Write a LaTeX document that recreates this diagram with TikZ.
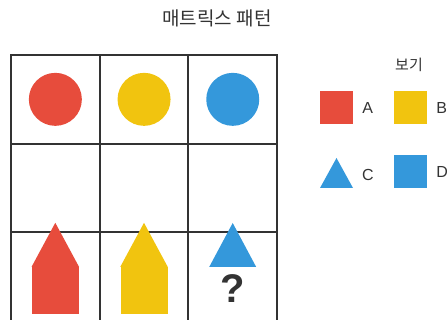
\documentclass[tikz,border=0pt]{standalone}
\usepackage{fontspec}
\setmainfont{Noto Sans CJK KR}
\newfontfamily\latinfont{Liberation Sans}
\usepackage{tikz}
\usetikzlibrary{positioning}
\definecolor{shapeRed}{HTML}{E74C3C}
\definecolor{shapeYellow}{HTML}{F1C40F}
\definecolor{shapeBlue}{HTML}{3498DB}
\definecolor{gridLine}{HTML}{333333}
\definecolor{textGray}{HTML}{333333}

\begin{document}
\begin{tikzpicture}[
    x=1pt, y=-1pt,
    gridCell/.style={draw=gridLine, line width=2pt, minimum size=88.7pt, inner sep=0pt},
    dotCircle/.style={circle, minimum size=53pt, inner sep=0pt},
    bodySquare/.style={minimum size=47pt, inner sep=0pt},
    keySquare/.style={minimum size=33pt, inner sep=0pt},
    keyLabel/.style={font=\latinfont\fontsize{16}{18}\selectfont, color=textGray, anchor=west, inner sep=0pt, xshift=9pt},
    titleText/.style={font=\fontsize{19}{22}\selectfont, color=textGray}
]
\useasboundingbox (0,0) rectangle (447,320);

% Title
\node[titleText] (title) at (217,18) {매트릭스 패턴};

% Grid (3 x 3)
\foreach \row in {1,2,3} {
  \foreach \col in {1,2,3} {
    \node[gridCell] (c\row\col) at ({11+44.35+88.7*(\col-1)}, {55+44.35+88.7*(\row-1)}) {};
  }
}

% Row 1: circles
\node[dotCircle, fill=shapeRed] (dot1) at (c11) {};
\node[dotCircle, fill=shapeYellow] (dot2) at (c12) {};
\node[dotCircle, fill=shapeBlue] (dot3) at (c13) {};

% Row 3: houses and the open cell
\node[bodySquare, fill=shapeRed] (body1) at (55.3,290.5) {};
\fill[shapeRed] (body1.north west) -- (body1.north east) -- ([yshift=44pt]body1.north) -- cycle;
\node[bodySquare, fill=shapeYellow] (body2) at (144,290.5) {};
\fill[shapeYellow] (body2.north west) -- (body2.north east) -- ([yshift=44pt]body2.north) -- cycle;
\coordinate (roof3) at (232.7,267);
\fill[shapeBlue] ([xshift=-23.5pt]roof3) -- ([xshift=23.5pt]roof3) -- ([yshift=44pt]roof3) -- cycle;
\node[font=\latinfont\fontsize{40}{44}\selectfont\bfseries, color=textGray] (quest) at (232.7,289) {?};

% Options
\node[font=\fontsize{15}{17}\selectfont, color=textGray] (keyTitle) at (409,65) {보기};
\node[keySquare, fill=shapeRed] (keyA) at (336.5,108) {};
\node[keyLabel] (labelA) at (keyA.east) {A};
\node[keySquare, fill=shapeYellow] (keyB) at (410.5,108) {};
\node[keyLabel] (labelB) at (keyB.east) {B};
\coordinate (keyC) at (336.5,188);
\fill[shapeBlue] ([xshift=-16.5pt]keyC) -- ([xshift=16.5pt]keyC) -- ([yshift=30pt]keyC) -- cycle;
\node[keyLabel] (labelC) at ([xshift=16.5pt, yshift=13pt]keyC) {C};
\node[keySquare, fill=shapeBlue] (keyD) at (410.5,172) {};
\node[keyLabel] (labelD) at (keyD.east) {D};

\end{tikzpicture}
\end{document}
